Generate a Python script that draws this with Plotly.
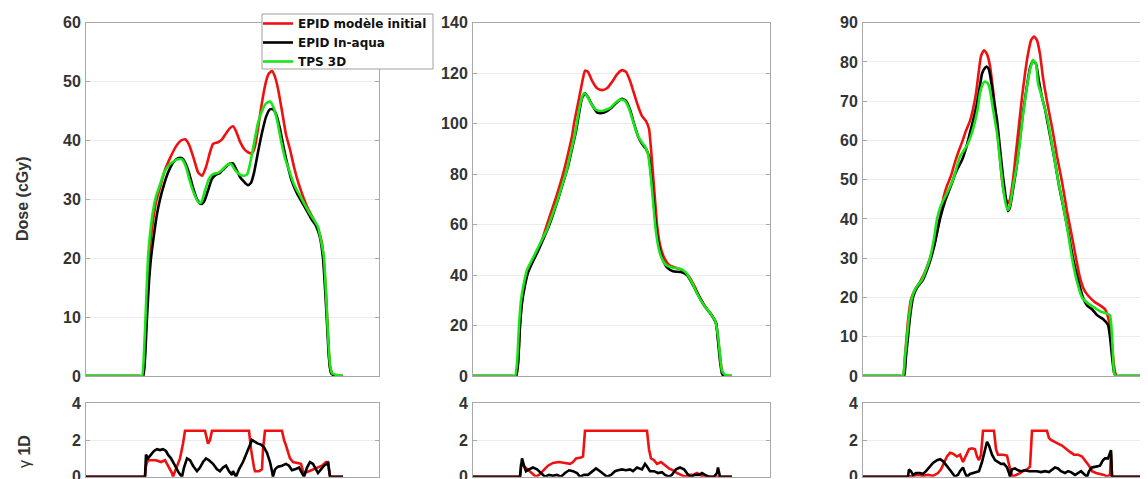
import plotly.graph_objects as go

# ---------------- data (x = position along profile, mm; y = dose cGy / gamma) ----------------
# Panel 1 dose
p1_red_x = [0,30,45,52,57,59,61,63,66,70,74,79,84,90,95,99,103,108,112,116,120,124,127,132,136,140,144,147,150,154,158,162,166,169,172,176,180,183,186,189,192,196,200,204,208,212,217,222,227,232,236,238,240,242,244,247,250,254,257]
p1_red_y = [0,0,0,0,0,5,13,20,25,29.5,32,35,37,39,40,40.2,39.3,36.8,34.6,34,35.5,38,39.4,39.7,40.2,41.2,42.1,42.4,41.6,39.8,38.6,38,37.8,39,42,46.5,50,51.4,51.8,50.8,48.8,45,41,38.5,35.5,33,30.5,28.4,26.8,25,22.5,19,14,7,1.5,0.2,0,0,0]
p1_blk_x = [0,30,45,52,57,59,61,63,65,68,71,74,78,82,87,92,96,99,103,107,111,115,118,122,126,130,134,138,143,147,150,154,158,162,165,168,172,176,180,184,187,190,194,198,202,206,211,216,221,226,230,234,237,239,241,243,245,249,253,257]
p1_blk_y = [0,0,0,0,0,3,10,16,20,24,27.5,30,32.5,34.5,36.2,37,37,36.3,34.5,32,30,29.2,29.6,31.5,33.5,34.2,34.5,35.2,36,36.1,35.2,33.8,33,32.4,32.8,34.5,38,41.3,44,45.3,45.3,44.5,42,38.5,35.5,33,31,29.5,28,26.5,25.5,23.5,20,15,9,3,0.5,0,0,0]
p1_grn_x = [0,30,45,52,56,58,60,62,64,67,70,74,78,83,88,92,96,100,104,108,112,115,119,123,127,132,136,141,145,149,153,157,161,164,168,172,176,180,184,187,191,195,199,203,207,211,215,219,224,228,232,235,238,240,242,244,246,250,254,257]
p1_grn_y = [0,0,0,0,0,4,12,20,24,28,30.5,32.5,34.5,35.8,36.5,36.8,36.8,35.5,33,31,29.6,29.4,31.5,33.5,34.3,34.5,35,35.8,36,35,34.3,34,34.2,36,39.5,43,45,46.3,46.6,45.8,43.5,40,37,35,33,31.5,30.3,29,27.5,26.5,25.3,23,20,14,7,2,0.5,0.2,0,0]

# Panel 1 gamma
g1_red_x = [0,59,60,62,70,75,79,83,86,87,90,94,97,99,119,121,122,124,126,163,165,168,169,173,176,177,179,196,198,200,204,207,215,217,219,223,228,232,236,240,242,244,257]
g1_red_y = [0,0,0.6,0.9,0.9,0.8,0.9,0.5,0.2,0,0.4,1.0,1.8,2.5,2.5,2.0,1.8,2.0,2.5,2.5,1.5,0.5,0.3,0.3,0.4,1.5,2.5,2.5,2.0,1.7,1.0,0.8,0.7,0.3,0.2,0.3,0.4,0.5,0.6,0.8,0.8,0,0]
g1_blk_x = [0,59,60,62,65,68,71,74,77,80,82,85,89,93,96,98,101,104,107,111,114,117,120,123,127,131,134,137,140,143,146,147,150,153,157,161,164,166,169,172,175,178,181,184,186,187,189,192,196,200,203,206,209,213,216,218,221,224,227,230,232,235,238,241,242,244,257]
g1_blk_y = [0,0,1.2,1.0,1.2,1.4,1.5,1.45,1.5,1.4,1.2,1.0,0.6,0.2,0,0.5,1.0,0.9,0.6,0.3,0.5,0.8,1.0,0.9,0.7,0.4,0.3,0.5,0.6,0.3,0.1,0.3,0,0.4,0.8,1.3,1.7,2.0,1.9,1.8,1.75,1.6,1.3,0.8,0.3,0,0.4,0.55,0.6,0.7,0.6,0.35,0.4,0.5,0.2,0,0.5,0.8,0.7,0.4,0.2,0.4,0.6,0.7,0.8,0,0]

# Panel 2 dose
p2_red_x = [0,20,33,39,43,45,47,49,52,55,60,65,70,74,79,84,90,95,99,101,104,107,110,112,115,119,124,129,134,139,144,149,153,157,161,165,169,173,176,178,180,182,184,187,191,196,202,209,215,221,227,233,239,243,245,247,249,252,255,259]
p2_red_y = [0,0,0,0,0,5,20,30,37,42,46,50,55,60,66,72,80,88,95,100,106,112,118,121,120.5,117,114,113.3,114,116.5,119.5,121.2,120.5,117,112,107,103,101,98,90,80,70,60,52,47,44,43,42,40,36,31,27,24,21,15,8,2,0.3,0,0]
p2_blk_x = [0,20,33,39,43,45,47,49,52,55,60,65,70,75,80,85,90,95,99,103,106,109,112,115,119,124,129,134,139,144,149,153,157,161,165,169,173,176,178,180,182,184,187,190,194,200,208,214,220,226,232,238,243,245,247,249,251,255,259]
p2_blk_y = [0,0,0,0,0,5,20,29,36,41,45.5,49.5,54,58.5,64,70,76.5,83,90,97,104,110,112,110.5,107.5,104.5,104.2,105,106.5,108.5,109.8,109,105.5,100,95,92,90,87,80,72,63,56,49.5,46,43,41.5,41.2,40,36,31.5,27.5,24.5,21,14,6,1,0,0,0]
p2_grn_x = [0,20,32,38,42,44,46,48,51,54,59,64,69,74,79,84,89,94,98,102,105,108,111,114,118,123,128,133,138,143,148,152,156,160,164,168,172,175,177,179,181,183,186,189,193,199,207,213,219,225,231,237,242,245,247,249,252,255,259]
p2_grn_y = [0,0,0,0,0,5,20,30,37,42,46,50,54,58,63.5,69,75.5,82,89,96,103,109,112,111,108,105.5,105,105.5,106.5,108.5,109.5,109,106,101,96,93,91,88,82,74,65,57,50,46.5,44,43,42.5,41,37,32,28,25,22,16,8,2,0.5,0,0]

# Panel 2 gamma
g2_red_x = [0,47,48,50,54,58,63,66,70,75,80,86,92,97,100,103,108,110,112,174,176,178,181,184,188,192,196,200,204,208,212,216,220,224,227,230,246,259]
g2_red_y = [0,0,0.7,0.6,0.4,0.2,0,0.1,0.3,0.6,0.75,0.8,0.75,0.7,0.8,1.0,1.05,1.1,2.5,2.5,1.5,1.0,0.9,0.7,0.8,0.6,0.45,0.35,0.2,0.1,0,0.1,0.1,0.2,0.1,0,0,0]
g2_blk_x = [0,47,48,49,51,53,56,60,64,68,72,76,80,84,88,92,96,100,104,107,111,115,119,123,127,131,134,138,142,145,149,153,157,160,164,169,172,174,177,181,185,189,192,196,199,203,207,211,215,218,222,226,229,232,236,241,244,245,247,259]
g2_blk_y = [0,0,0.5,1.0,0.6,0.3,0.4,0.5,0.4,0.2,0,0.1,0.05,0.1,0,0.2,0.35,0.3,0.2,0,0.1,0.1,0.3,0.45,0.3,0.1,0,0.1,0.3,0.35,0.4,0.35,0.4,0.3,0.5,0.4,0.7,0.55,0.3,0.3,0.2,0.25,0.1,0,0.1,0.4,0.5,0.4,0.1,0,0.1,0.1,0.2,0.1,0,0,0.2,0.5,0,0]

# Panel 3 dose
p3_red_x = [0,20,30,36,40,42,45,48,52,57,62,67,71,75,78,81,84,88,92,96,99,103,107,110,113,116,118,121,124,127,130,133,136,139,142,145,147,150,153,156,159,162,165,168,171,174,177,180,184,187,190,194,199,204,209,213,217,221,225,231,237,242,245,248,250,252,254,258,270,300]
p3_red_y = [0,0,0,0,0,5,14,19.5,22,24,26.5,30,33,38,42,46,48.5,51,54.5,57.5,59.5,62.5,65,68,72,78,81.5,83,82,79,73,66,58,50,45.5,44,45,50,57,64,71,77,82,85.5,86.5,85.5,82,76,70,66,62,56,49.5,42,35.5,30,25,22,20.5,19,18,17,15,11,5,1,0,0,0,0]
p3_blk_x = [0,20,31,37,41,43,45,47,50,54,60,64,68,72,77,82,88,93,99,103,107,111,114,117,119,122,124,126,129,131,134,137,140,143,145,147,150,154,157,160,164,167,170,173,176,179,182,185,188,192,196,200,205,210,215,220,224,229,234,240,245,247,249,251,253,257,270,300]
p3_blk_y = [0,0,0,0,0,5,10,15,20,22.5,24.5,27,30,34,40,44.5,48.5,52,55,58,62,66,69.5,74,77,78.5,78.8,78,73.7,70,65.2,58,50.8,45,42,43,47.5,54,60.5,67,74,78.5,80.3,79.5,75,71,68,64,60,54.5,48.5,43.5,37,30,24.5,20,18,17,15.5,14.5,13,10,5,1,0,0,0,0]
p3_grn_x = [0,20,30,36,40,42,44,46,49,53,59,63,67,71,74,78,84,90,97,101,105,109,112,115,117,120,122,125,127,130,134,137,140,143,145,147,150,154,157,160,164,167,170,173,175,178,180,184,187,191,195,199,204,209,214,219,225,231,237,243,247,249,250,251,253,257,270,300]
p3_grn_y = [0,0,0,0,0,5,10,15,20,22.5,24.5,27,30,35,40,43.5,46.6,50,55.9,57.5,59.3,62,64.8,68.5,72,74.5,75,74.5,72.8,68,61.8,55,48.2,43.5,42.3,43.5,48.2,54,60,66.5,73.7,78,80.5,79.5,74.5,72,70,66,61.9,56,50,45,38,30,24,20,18.5,17.5,16.5,16,15.5,10,5,1,0,0,0,0]

# Panel 3 gamma
g3_red_x = [0,45,50,55,60,65,70,75,78,81,84,87,90,94,97,100,103,106,109,112,114,116,118,120,131,133,135,140,144,146,148,150,154,157,160,164,167,169,184,186,188,191,195,199,203,207,211,215,219,222,226,229,233,237,241,244,247,248,249,300]
g3_red_y = [0,0,0.05,0.1,0.05,0.1,0.05,0.2,0.4,0.8,1.1,1.3,1.25,1.1,1.2,0.8,1.2,1.5,1.55,1.5,1.1,0.9,1.2,2.5,2.5,1.5,1.2,1.2,1.15,0.6,0.2,0,0.1,0.2,0.3,0.4,0.55,2.5,2.5,2.1,2.0,1.9,1.8,1.7,1.5,1.35,1.2,1.2,1.1,0.9,0.6,0.3,0.2,0.15,0.1,0,0.1,1.3,0,0]
g3_blk_x = [0,45,46,48,50,53,57,60,63,66,70,74,77,80,84,88,92,95,97,100,102,104,107,110,113,116,119,122,124,126,129,132,135,138,141,144,146,147,149,152,155,158,162,166,170,174,178,182,186,189,192,195,198,202,205,208,212,215,218,221,224,226,229,233,237,240,242,245,247,248,249,300]
g3_blk_y = [0,0,0.4,0.3,0.1,0.2,0.2,0.15,0.3,0.5,0.75,0.9,0.95,0.85,0.6,0.3,0,0.1,0.3,0.5,0.2,0,0.15,0.2,0.25,0.3,0.8,1.5,1.9,1.7,1.2,0.9,0.8,0.7,0.7,0.5,0.2,0,0.4,0.45,0.35,0.3,0.35,0.3,0.3,0.3,0.25,0.3,0.25,0.4,0.5,0.45,0.3,0.2,0.3,0.25,0.1,0.2,0.3,0.15,0,0.3,0.5,0.55,0.6,0.9,1.0,1.0,1.4,1.45,0,0]

series_names = ["EPID modèle initial", "EPID In-aqua", "TPS 3D"]
dose_ticks = [[0, 10, 20, 30, 40, 50, 60], [0, 20, 40, 60, 80, 100, 120, 140], [0, 10, 20, 30, 40, 50, 60, 70, 80, 90]]
gamma_ticks = [0, 2, 4]
x_ranges = [[0, 293], [0, 297], [0, 293]]

# ---------------- style ----------------
RED = "#f01010"
BLACK = "#000000"
GREEN = "#19e619"
W = 1148
H = 479
OFF = 8  # page body margin of the HTML document
LW = 2.6


def px(xp):
    return (xp - OFF) / W


def py(yp):
    return (H - (yp - OFF)) / H


fig = go.Figure()

dose_sets = [
    (p1_red_x, p1_red_y, p1_blk_x, p1_blk_y, p1_grn_x, p1_grn_y),
    (p2_red_x, p2_red_y, p2_blk_x, p2_blk_y, p2_grn_x, p2_grn_y),
    (p3_red_x, p3_red_y, p3_blk_x, p3_blk_y, p3_grn_x, p3_grn_y),
]
gamma_sets = [
    (g1_red_x, g1_red_y, g1_blk_x, g1_blk_y),
    (g2_red_x, g2_red_y, g2_blk_x, g2_blk_y),
    (g3_red_x, g3_red_y, g3_blk_x, g3_blk_y),
]

for i, (rx, ry, bx, by, gx, gy) in enumerate(dose_sets):
    xa = "x" if i == 0 else f"x{i+1}"
    ya = "y" if i == 0 else f"y{i+1}"
    show = i == 0
    for xs, ys, col, nm in [(rx, ry, RED, series_names[0]), (bx, by, BLACK, series_names[1]), (gx, gy, GREEN, series_names[2])]:
        fig.add_trace(go.Scatter(x=xs, y=ys, mode="lines", line=dict(color=col, width=LW, shape="spline", smoothing=0.5),
                                 name=nm, showlegend=show, xaxis=xa, yaxis=ya))

for i, (rx, ry, bx, by) in enumerate(gamma_sets):
    xa = f"x{i+4}"
    ya = f"y{i+4}"
    for xs, ys, col in [(rx, ry, RED), (bx, by, BLACK)]:
        fig.add_trace(go.Scatter(x=xs, y=ys, mode="lines", line=dict(color=col, width=LW),
                                 showlegend=False, xaxis=xa, yaxis=ya))

xdom = [[px(86), px(379)], [px(473), px(770)], [px(863), 1.0]]
ydose = [py(376), py(22.7)]
ygam = [py(476.7), py(403.3)]

AXC = "#a8a8a8"
FAM = "Liberation Sans, Arial, sans-serif"
tickfont = dict(family=FAM, size=16, color="#333333", weight="bold")

layout = dict(
    width=W, height=H,
    margin=dict(l=0, r=0, t=0, b=0, pad=0, autoexpand=False),
    paper_bgcolor="white", plot_bgcolor="white",
    showlegend=True,
    legend=dict(x=px(258), y=py(9), xanchor="left", yanchor="top",
                bgcolor="rgba(0,0,0,0)", borderwidth=0,
                font=dict(family="DejaVu Sans, sans-serif", size=12, color="#111111", weight="bold"),
                tracegroupgap=0, itemwidth=30),
)

for i in range(6):
    col = i % 3
    is_gamma = i >= 3
    xk = "xaxis" if i == 0 else f"xaxis{i+1}"
    yk = "yaxis" if i == 0 else f"yaxis{i+1}"
    yanchor_name = "y" if i == 0 else f"y{i+1}"
    xanchor_name = "x" if i == 0 else f"x{i+1}"
    layout[xk] = dict(domain=xdom[col], range=x_ranges[col], anchor=yanchor_name,
                      showline=True, linecolor=AXC, linewidth=1, mirror=True,
                      showgrid=False, zeroline=False, showticklabels=False, ticks="")
    if is_gamma:
        tv = gamma_ticks
        rng = [0, 4]
        dom = ygam
    else:
        tv = dose_ticks[col]
        rng = [0, dose_ticks[col][-1]]
        dom = ydose
    layout[yk] = dict(domain=dom, range=rng, anchor=xanchor_name,
                      tickmode="array", tickvals=tv, ticktext=[str(v) for v in tv],
                      showline=True, linecolor=AXC, linewidth=1, mirror="ticks",
                      ticks="inside", ticklen=4, tickcolor=AXC,
                      showgrid=True, gridcolor="#ececec", gridwidth=1,
                      zeroline=False, tickfont=tickfont, ticklabelstandoff=1)

fig.update_layout(**layout)

# legend frame (white box above the curves)
fig.add_shape(type="rect", xref="paper", yref="paper", x0=px(262), x1=px(433), y0=py(69), y1=py(14),
              line=dict(color="#a0a0a0", width=1), fillcolor="white", layer="above")

fig.add_annotation(text="Dose (cGy)", xref="paper", yref="paper", x=px(22), y=py(199),
                   textangle=-90, showarrow=False, xanchor="center", yanchor="middle",
                   font=dict(family=FAM, size=16, color="#333333", weight="bold"))
fig.add_annotation(text="γ <b>1D</b>", xref="paper", yref="paper", x=px(24), y=py(452),
                   textangle=-90, showarrow=False, xanchor="center", yanchor="middle",
                   font=dict(family=FAM, size=16, color="#333333"))

fig.write_html("out.html")
